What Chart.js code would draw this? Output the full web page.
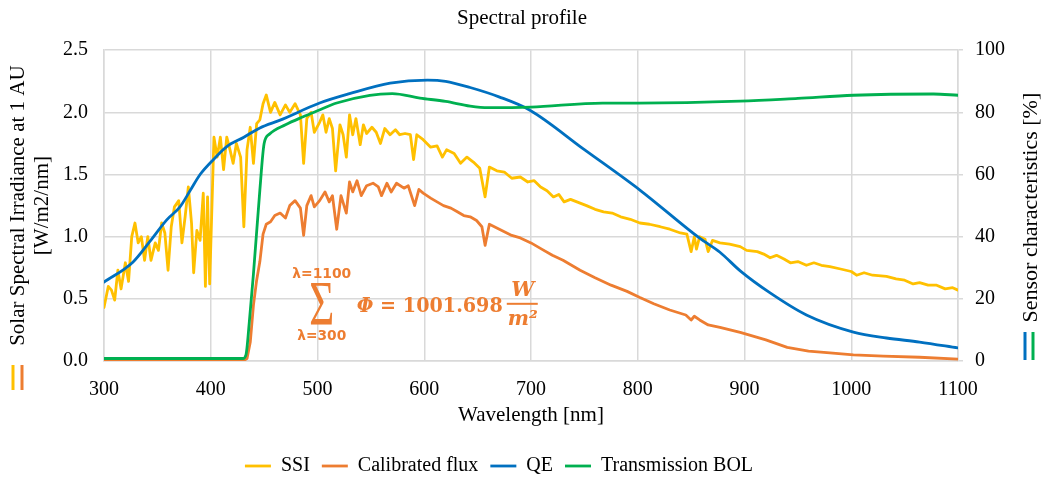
<!DOCTYPE html>
<html>
<head>
<meta charset="utf-8">
<title>Spectral profile</title>
<script src="https://cdn.jsdelivr.net/npm/chart.js@4.4.1/dist/chart.umd.min.js"></script>
<style>
  html, body { margin: 0; padding: 0; background: #fff; }
</style>
</head>
<body>
<canvas id="spectrum" width="1044" height="481"></canvas>
<script>
// values (wavelength in nm)
let ssiWl = [300,304,307,310,313,316,320,323,326,329,332,335,338,341,344,348,351,354,357,360,363,366,370,373,376,379,382,384,387,390,393,395,397,399,403,406,409,412,415,418,421,424,428,431,434,437,440,443,446,449,452,456,460,465,470,474,479,484,487,490,494,497,502,505,508,511,514,517,521,524,527,530,533,536,540,543,546,551,555,559,563,568,573,577,582,587,590,593,599,606,612,617,621,628,634,640,646,652,657,661,668,675,682,690,697,703,709,715,721,726,731,737,746,752,760,768,776,784,793,802,811,821,830,840,846,850,853,855,858,863,866,870,877,886,896,902,912,918,924,930,937,943,950,958,965,972,980,990,1000,1005,1012,1020,1033,1042,1050,1058,1064,1072,1080,1088,1095,1100];
let ssiVal = [0.43,0.60,0.57,0.49,0.73,0.58,0.79,0.64,1.00,1.11,0.95,1.00,0.81,1.00,0.81,0.95,0.89,1.11,1.03,0.73,1.08,1.24,1.29,0.95,1.16,1.40,1.11,0.71,1.05,0.97,1.35,0.60,1.32,0.62,1.80,1.64,1.80,1.54,1.80,1.70,1.59,1.75,1.64,1.08,1.70,1.88,1.59,1.91,1.94,2.07,2.14,2.00,2.08,1.98,2.06,2.00,2.07,1.98,1.59,1.95,2.00,1.84,1.92,1.98,1.84,1.95,1.87,1.53,1.90,1.82,1.64,1.98,1.82,1.95,1.74,1.90,1.83,1.88,1.84,1.75,1.87,1.82,1.86,1.82,1.83,1.82,1.62,1.82,1.78,1.72,1.73,1.64,1.70,1.67,1.59,1.64,1.60,1.55,1.32,1.56,1.53,1.52,1.47,1.48,1.44,1.45,1.40,1.37,1.32,1.34,1.28,1.30,1.27,1.25,1.22,1.20,1.19,1.16,1.14,1.11,1.10,1.08,1.06,1.03,1.02,0.88,1.00,0.90,1.00,0.98,0.88,0.97,0.95,0.94,0.92,0.89,0.88,0.86,0.83,0.85,0.82,0.79,0.80,0.77,0.79,0.77,0.76,0.74,0.72,0.69,0.71,0.69,0.68,0.66,0.65,0.62,0.63,0.61,0.61,0.58,0.59,0.57];

let fluxWl = [300,430,434,437,440,443,446,449,452,456,460,465,470,474,479,484,487,490,494,497,502,507,511,514,518,522,527,530,533,537,541,546,552,557,560,565,569,574,581,585,591,595,599,606,612,618,625,631,637,643,649,654,657,661,668,675,682,690,700,710,720,730,746,760,775,790,802,815,830,845,850,853,858,866,877,896,920,940,960,980,1002,1030,1064,1100];
let fluxVal = [0,0,0.02,0.15,0.45,0.65,0.80,1.02,1.10,1.12,1.17,1.19,1.15,1.25,1.29,1.23,1.01,1.25,1.33,1.24,1.29,1.36,1.28,1.33,1.06,1.33,1.19,1.44,1.36,1.45,1.33,1.41,1.43,1.40,1.33,1.43,1.36,1.43,1.39,1.41,1.25,1.38,1.35,1.31,1.28,1.25,1.23,1.20,1.17,1.16,1.13,1.08,0.93,1.10,1.07,1.04,1.01,0.99,0.95,0.90,0.85,0.81,0.73,0.67,0.61,0.56,0.51,0.46,0.41,0.37,0.33,0.36,0.33,0.29,0.27,0.23,0.17,0.11,0.08,0.065,0.05,0.04,0.03,0.015];

let qeWl = [300,327,343,359,371,381,390,403,415,431,446,465,502,530,568,603,620,643,670,699,750,802,858,877,896,924,958,1002,1033,1064,1100];
let qeVal = [25.4,31.8,38.5,45.5,49.5,55,60,65,69,72,75,77.5,83,86,89.4,90.4,90,88,85,80.7,68,55,39.5,35,29,21.9,14.8,9.3,7.4,6.1,4.2];

let trWl = [300,430,433,436,440,446,450,455,470,486,500,518,549,570,596,620,643,660,700,767,800,896,950,1002,1077,1100];
let trVal = [0.8,0.8,2,12,28,55,70,73,76,78.5,80.5,83,85.5,86,84.6,83.5,82,81.5,81.7,83,83,83.6,84.5,85.5,85.9,85.5];

let seriesNames = ['SSI', 'Calibrated flux', 'QE', 'Transmission BOL'];
let seriesColors = ['#FFC000', '#ED7D31', '#0070C0', '#00B050'];

let fluxSum = '1001.698';

function pts(wl, v) {
  return wl.map((x, i) => ({ x: x, y: v[i] }));
}

const serif = '"Liberation Serif", "Times New Roman", serif';
const gridCol = '#d9d9d9';

// text centred on cx at baseline y, squeezed to a width if asked
function put(ctx, txt, font, cx, y, w) {
  ctx.font = font;
  let tw = ctx.measureText(txt).width;
  let sx = w ? w / tw : 1;
  ctx.save();
  ctx.translate(cx, y);
  ctx.scale(sx, 1);
  ctx.textAlign = 'center';
  ctx.textBaseline = 'alphabetic';
  ctx.fillText(txt, 0, 0);
  ctx.restore();
}

function vText(ctx, txt, x, y, font) {
  ctx.save();
  ctx.translate(x, y);
  ctx.rotate(-Math.PI / 2);
  ctx.font = font;
  ctx.fillStyle = '#000';
  ctx.textAlign = 'center';
  ctx.textBaseline = 'middle';
  ctx.fillText(txt, 0, 0);
  ctx.restore();
}

const extras = {
  id: 'extras',
  afterLayout(chart) {
    // legend sits a little left of centre and a bit lower in the original
    let lg = chart.legend;
    if (lg) {
      lg.left -= 23; lg.right -= 23;
      lg.top += 5; lg.bottom += 5;
    }
  },
  afterDraw(chart) {
    let ctx = chart.ctx;
    let ca = chart.chartArea;
    let mid = (ca.top + ca.bottom) / 2;

    // axis titles
    vText(ctx, 'Solar Spectral Irradiance at 1 AU', 18, mid, '21px ' + serif);
    vText(ctx, '[W/m2/nm]', 42, mid, '21px ' + serif);
    vText(ctx, 'Sensor characteristics [%]', 1031, mid + 2, '22px ' + serif);
    ctx.save();
    ctx.font = '21px ' + serif;
    ctx.fillStyle = '#000';
    ctx.textAlign = 'center';
    ctx.textBaseline = 'middle';
    ctx.fillText('Wavelength [nm]', (ca.left + ca.right) / 2, ca.bottom + 54);
    ctx.restore();

    // little series keys next to the axis titles
    ctx.save();
    ctx.lineWidth = 3;
    [[13, 0], [22, 1]].forEach(k => {
      ctx.strokeStyle = seriesColors[k[1]];
      ctx.beginPath(); ctx.moveTo(k[0], ca.bottom + 4); ctx.lineTo(k[0], ca.bottom + 29); ctx.stroke();
    });
    [[1025, 2], [1033, 3]].forEach(k => {
      ctx.strokeStyle = seriesColors[k[1]];
      ctx.beginPath(); ctx.moveTo(k[0], ca.bottom - 29); ctx.lineTo(k[0], ca.bottom - 1); ctx.stroke();
    });
    ctx.restore();

    // sum formula, anchored on the data point (504 nm, 0.46)
    let ax = chart.scales.x.getPixelForValue(504);
    let ay = chart.scales.y.getPixelForValue(0.46);
    ctx.save();
    ctx.fillStyle = '#ED7D31';
    put(ctx, 'λ=1100', 'bold 14px "DejaVu Sans"', ax, ay - 26, 59);
    put(ctx, 'Σ', '64px ' + serif, ax, ay + 21, 25);
    put(ctx, 'λ=300', 'bold 14px "DejaVu Sans"', ax, ay + 36, 49);
    ctx.save();
    ctx.font = 'italic bold 20px "DejaVu Serif"';
    let wPhi = ctx.measureText('Φ ').width;
    ctx.font = 'bold 20px "DejaVu Serif"';
    let wNum = ctx.measureText('= ' + fluxSum).width;
    let sx = 146 / (wPhi + wNum);
    ctx.translate(ax + 35, ay + 8);
    ctx.scale(sx, 1);
    ctx.textAlign = 'left';
    ctx.textBaseline = 'alphabetic';
    ctx.font = 'italic bold 20px "DejaVu Serif"';
    ctx.fillText('Φ ', 0, 0);
    ctx.font = 'bold 20px "DejaVu Serif"';
    ctx.fillText('= ' + fluxSum, wPhi, 0);
    ctx.restore();
    put(ctx, 'W', 'italic bold 20px "DejaVu Serif"', ax + 201, ay - 8, 23);
    put(ctx, 'm²', 'italic bold 20px "DejaVu Serif"', ax + 201, ay + 21, 30);
    ctx.fillRect(ax + 185, ay - 1, 31, 2);
    ctx.restore();
  }
};

new Chart(document.getElementById('spectrum'), {
  type: 'line',
  data: {
    datasets: [
      { label: seriesNames[0], data: pts(ssiWl, ssiVal), yAxisID: 'y', borderColor: seriesColors[0], backgroundColor: seriesColors[0], borderWidth: 2.8, order: 4 },
      { label: seriesNames[1], data: pts(fluxWl, fluxVal), yAxisID: 'y', borderColor: seriesColors[1], backgroundColor: seriesColors[1], borderWidth: 2.8, order: 3 },
      { label: seriesNames[2], data: pts(qeWl, qeVal), yAxisID: 'y2', borderColor: seriesColors[2], backgroundColor: seriesColors[2], borderWidth: 2.8, cubicInterpolationMode: 'monotone', order: 2 },
      { label: seriesNames[3], data: pts(trWl, trVal), yAxisID: 'y2', borderColor: seriesColors[3], backgroundColor: seriesColors[3], borderWidth: 2.8, cubicInterpolationMode: 'monotone', order: 1 }
    ]
  },
  options: {
    responsive: false,
    animation: false,
    devicePixelRatio: 1,
    elements: { point: { radius: 0 }, line: { borderJoinStyle: 'round', borderCapStyle: 'round' } },
    layout: { padding: 0 },
    plugins: {
      title: {
        display: true,
        text: 'Spectral profile',
        color: '#000',
        font: { family: serif, size: 21, weight: 'normal' },
        padding: { top: 6, bottom: 19 }
      },
      legend: {
        position: 'bottom',
        labels: {
          usePointStyle: true,
          pointStyle: 'line',
          pointStyleWidth: 26,
          color: '#000',
          font: { family: serif, size: 20 },
          padding: 12,
          sort: (a, b) => a.datasetIndex - b.datasetIndex
        }
      },
      tooltip: { enabled: false }
    },
    scales: {
      x: {
        type: 'linear',
        min: 300,
        max: 1100,
        ticks: { stepSize: 100, color: '#000', font: { family: serif, size: 20 }, padding: 17, maxRotation: 0, callback: v => String(v) },
        grid: { color: gridCol, lineWidth: 1.5, drawTicks: false },
        border: { color: gridCol, width: 1.5 },
        afterFit: s => { s.height = 120 - (s.chart.legend ? s.chart.legend.height : 42); }
      },
      y: {
        position: 'left',
        min: 0,
        max: 2.5,
        ticks: { stepSize: 0.5, color: '#000', font: { family: serif, size: 20 }, padding: 16, callback: v => v.toFixed(1) },
        grid: { color: gridCol, lineWidth: 1.5, drawTicks: false },
        border: { color: gridCol, width: 1.5 },
        afterFit: s => { s.width = 104; }
      },
      y2: {
        position: 'right',
        min: 0,
        max: 100,
        ticks: { stepSize: 20, color: '#000', font: { family: serif, size: 20 }, padding: 12 },
        grid: { drawOnChartArea: false, color: gridCol, lineWidth: 1.5, tickLength: 5 },
        border: { color: gridCol, width: 1.5 },
        afterFit: s => { s.width = 86; }
      }
    }
  },
  plugins: [extras]
});
</script>
</body>
</html>
